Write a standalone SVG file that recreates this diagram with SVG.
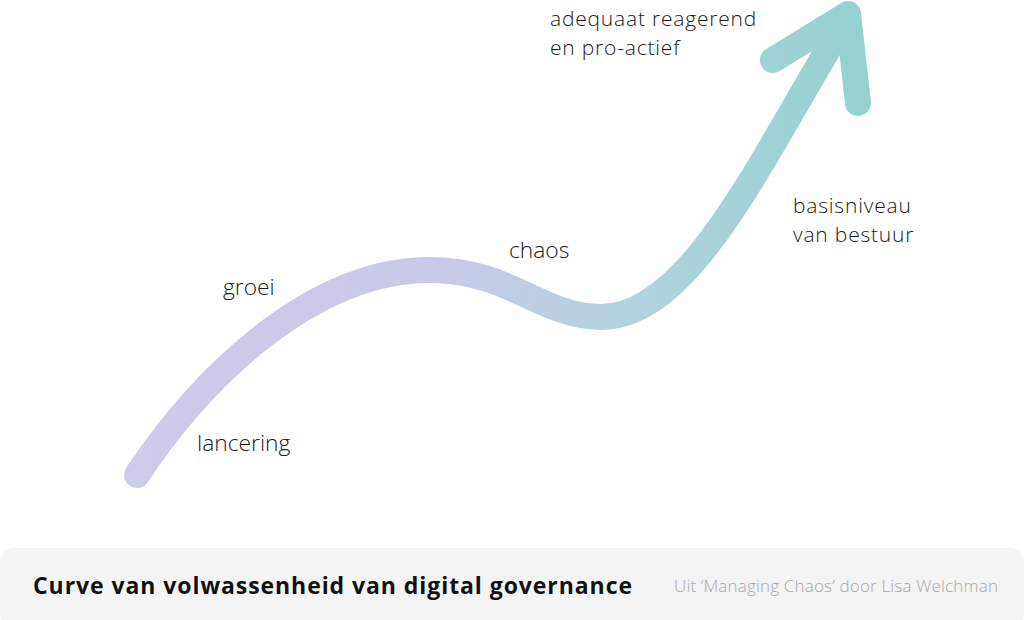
<svg xmlns="http://www.w3.org/2000/svg" width="1024" height="620" viewBox="0 0 1024 620">
<defs>
<linearGradient id="g" gradientUnits="userSpaceOnUse" x1="130" y1="0" x2="860" y2="0">
<stop offset="0" stop-color="#cccbe9"/>
<stop offset="0.42" stop-color="#c9c9e8"/>
<stop offset="0.65" stop-color="#b6d2df"/>
<stop offset="1" stop-color="#94d2cf"/>
</linearGradient>
<style>
.lbl{font-family:"Open Sans",Lato,sans-serif;font-size:22.8px;font-weight:300;fill:#1a1a1a}
.lbl2{font-family:"Open Sans",Lato,sans-serif;font-size:21px;font-weight:300;fill:#1a1a1a;letter-spacing:0.8px}
.stroke{fill:none;stroke:url(#g);stroke-width:26;stroke-linecap:round;stroke-linejoin:round}
</style>
</defs>
<rect width="1024" height="620" fill="#ffffff"/>
<g id="curve">
<path class="stroke" d="M137,475 C200,380 310,270 430,270 C510,270 540,316 600,317 C690,318 760,160 848,16"/>
<path class="stroke" d="M773,60 L848,14 L858,103"/>
</g>
<g id="label-top">
<text class="lbl2" x="550" y="26">adequaat reagerend<tspan x="550" dy="29">en pro-actief</tspan></text>
</g>
<g id="label-basis">
<text class="lbl2" x="793" y="213">basisniveau<tspan x="793" dy="29">van bestuur</tspan></text>
</g>
<g id="label-chaos">
<text class="lbl" x="509" y="258">chaos</text>
</g>
<g id="label-groei">
<text class="lbl" x="223" y="295">groei</text>
</g>
<g id="label-lancering">
<text class="lbl" x="197" y="451">lancering</text>
</g>
<g id="footer">
<rect x="0" y="548" width="1024" height="80" rx="14" fill="#f4f4f4"/>
<text x="33" y="594" font-family="'Open Sans',Lato,sans-serif" font-weight="bold" font-size="23" fill="#111" textLength="599" lengthAdjust="spacing">Curve van volwassenheid van digital governance</text>
<text x="674" y="592" font-family="'Open Sans',Lato,sans-serif" font-weight="300" font-size="17" fill="#a8a8a8" textLength="324" lengthAdjust="spacing">Uit ‘Managing Chaos’ door Lisa Welchman</text>
</g>
</svg>
